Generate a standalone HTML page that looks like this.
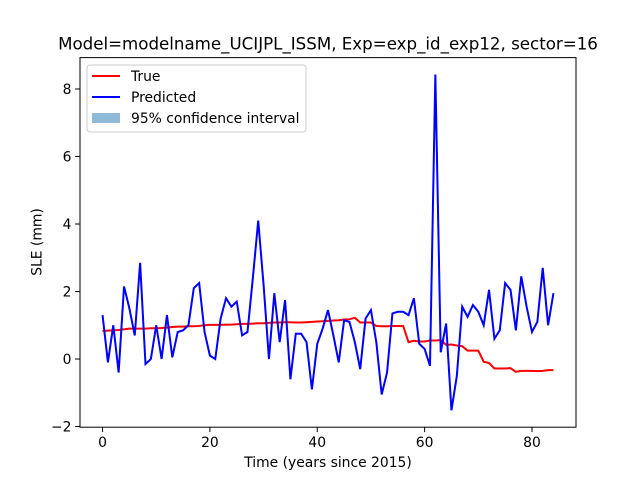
<!DOCTYPE html>
<html><head><meta charset="utf-8"><style>
body{margin:0;background:#fff;}
svg{display:block;font-family:"DejaVu Sans","Liberation Sans",sans-serif;}
</style></head><body>
<svg id="chart" width="640" height="480">
<rect width="640" height="480" fill="#fff"/>
<text x="328" y="49.5" font-size="16.67" text-anchor="middle">Model=modelname_UCIJPL_ISSM, Exp=exp_id_exp12, sector=16</text>
<g id="xticks"></g>
<g id="yticks"></g>
<path id="trueLine" fill="none" stroke="#ff0000" stroke-width="2"/>
<path id="predLine" fill="none" stroke="#0000ff" stroke-width="2"/>
<rect x="80" y="57.6" width="496" height="369.6" fill="none" stroke="#000" stroke-width="1"/>
<text x="328" y="467" font-size="13.89" text-anchor="middle">Time (years since 2015)</text>
<text transform="translate(41.5,242) rotate(-90)" font-size="13.89" text-anchor="middle">SLE (mm)</text>
<g>
<rect x="87" y="65" width="219" height="67" rx="3" fill="#fff" fill-opacity="0.8" stroke="#ccc" stroke-width="1"/>
<line x1="92" y1="76" x2="120" y2="76" stroke="#ff0000" stroke-width="2"/>
<text x="131" y="81" font-size="13.89">True</text>
<line x1="92" y1="97" x2="120" y2="97" stroke="#0000ff" stroke-width="2"/>
<text x="131" y="102" font-size="13.89">Predicted</text>
<rect x="92" y="113" width="28" height="10" fill="#1f77b4" fill-opacity="0.5"/>
<text x="131" y="123" font-size="13.89">95% confidence interval</text>
</g>
</svg>
<script>
const predValues=[1.3,-0.1,1.0,-0.4,2.15,1.5,0.7,2.85,-0.15,0.0,1.0,0.0,1.3,0.05,0.8,0.85,1.0,2.1,2.25,0.8,0.1,0.0,1.2,1.8,1.55,1.7,0.7,0.8,2.4,4.1,2.2,0.0,1.95,0.5,1.75,-0.6,0.75,0.75,0.5,-0.9,0.45,0.9,1.45,0.7,-0.1,1.15,1.1,0.5,-0.3,1.2,1.45,0.5,-1.05,-0.4,1.35,1.4,1.4,1.3,1.8,0.45,0.3,-0.2,8.43,0.2,1.05,-1.52,-0.5,1.55,1.25,1.6,1.4,1.0,2.05,0.6,0.85,2.25,2.05,0.85,2.45,1.55,0.8,1.1,2.7,1.0,1.95];
const trueValues=[0.83,0.84,0.85,0.86,0.88,0.9,0.9,0.9,0.9,0.91,0.91,0.92,0.93,0.95,0.96,0.96,0.97,0.97,0.98,1.0,1.01,1.01,1.01,1.02,1.02,1.03,1.04,1.04,1.05,1.06,1.06,1.07,1.08,1.08,1.09,1.09,1.08,1.08,1.09,1.1,1.11,1.12,1.13,1.14,1.15,1.17,1.18,1.22,1.08,1.08,1.08,0.98,0.97,0.97,0.98,0.98,0.98,0.5,0.54,0.52,0.52,0.55,0.55,0.56,0.42,0.43,0.4,0.38,0.25,0.25,0.25,-0.08,-0.12,-0.28,-0.28,-0.28,-0.27,-0.38,-0.35,-0.35,-0.35,-0.36,-0.35,-0.33,-0.33];
const xTickValues=[0,20,40,60,80];
const yTickValues=[-2,0,2,4,6,8];
const xMin=-4.2,xMax=88.2,yMin=-2.02,yMax=8.93;
const L=80,R=576,T=57.6,B=427.2;
function xs(v){return L+(v-xMin)/(xMax-xMin)*(R-L);}
function ys(v){return B-(v-yMin)/(yMax-yMin)*(B-T);}
const NS='http://www.w3.org/2000/svg';
function pathFor(arr){return arr.map((v,i)=>(i?'L':'M')+xs(i).toFixed(2)+','+ys(v).toFixed(2)).join('');}
document.getElementById('predLine').setAttribute('d',pathFor(predValues));
document.getElementById('trueLine').setAttribute('d',pathFor(trueValues));
const xg=document.getElementById('xticks');
xTickValues.forEach(v=>{
 const l=document.createElementNS(NS,'line');
 l.setAttribute('x1',xs(v));l.setAttribute('x2',xs(v));l.setAttribute('y1',B);l.setAttribute('y2',B+4.9);l.setAttribute('stroke','#000');l.setAttribute('stroke-width','1');
 
 
 xg.appendChild(l);
 const t=document.createElementNS(NS,'text');
 t.setAttribute('x',xs(v));t.setAttribute('y',B+20);t.setAttribute('font-size','13.89');t.setAttribute('text-anchor','middle');t.textContent=v;
 
 
 xg.appendChild(t);
});
const yg=document.getElementById('yticks');
yTickValues.forEach(v=>{
 const l=document.createElementNS(NS,'line');
 l.setAttribute('x1',L-4.9);l.setAttribute('x2',L);l.setAttribute('y1',ys(v));l.setAttribute('y2',ys(v));l.setAttribute('stroke','#000');l.setAttribute('stroke-width','1');
 
 
 yg.appendChild(l);
 const t=document.createElementNS(NS,'text');
 t.setAttribute('x',L-8.5);t.setAttribute('y',ys(v)+5);t.setAttribute('font-size','13.89');t.setAttribute('text-anchor','end');t.textContent=(v<0?'\u2212'+(-v):v);
 
 
 yg.appendChild(t);
});
</script>
</body></html>
